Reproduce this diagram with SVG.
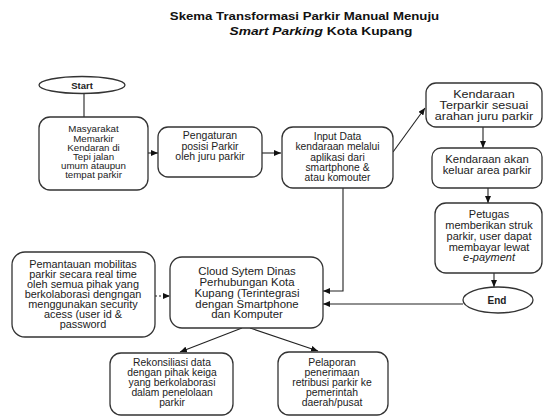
<svg xmlns="http://www.w3.org/2000/svg" width="544" height="418" viewBox="0 0 544 418">
<defs>
<marker id="arr" markerWidth="7" markerHeight="6" refX="7" refY="3" orient="auto" markerUnits="userSpaceOnUse">
<path d="M0,0 L7,3 L0,6 z" fill="#111"/>
</marker>
<style>
.box{fill:#fff;stroke:#333;stroke-width:1.3}
.t{font-family:"Liberation Sans",Arial,sans-serif;font-size:10px;fill:#222;text-anchor:middle}
.b{font-weight:bold}
.ttl{font-family:"Liberation Sans",Arial,sans-serif;font-size:11.5px;font-weight:bold;fill:#111;text-anchor:middle}
.ln{fill:none;stroke:#222;stroke-width:1.1}
</style>
</defs>
<rect width="544" height="418" fill="#fff"/>
<g id="title">
<text class="ttl" transform="translate(304.5 0) scale(1.15 1)" x="0" y="20">Skema Transformasi Parkir Manual Menuju</text>
<text class="ttl" transform="translate(321 0) scale(1.2 1)" x="0" y="35"><tspan font-style="italic">Smart Parking</tspan> Kota Kupang</text>
</g>
<g id="connectors">
<line class="ln" x1="84" y1="93" x2="84" y2="117"/>
<line class="ln" x1="148" y1="153" x2="158" y2="153" marker-end="url(#arr)"/>
<line class="ln" x1="262" y1="153" x2="281" y2="153" marker-end="url(#arr)"/>
<line class="ln" x1="393" y1="152" x2="425" y2="108" marker-end="url(#arr)"/>
<line class="ln" x1="483" y1="127" x2="483" y2="148" marker-end="url(#arr)"/>
<line class="ln" x1="488" y1="188" x2="488" y2="203" marker-end="url(#arr)"/>
<line class="ln" x1="494" y1="273" x2="494" y2="287" marker-end="url(#arr)"/>
<polyline class="ln" points="343,188 343,291 323,291" marker-end="url(#arr)"/>
<line class="ln" x1="463" y1="304" x2="323" y2="304" marker-end="url(#arr)"/>
<line class="ln" x1="155" y1="296" x2="170" y2="296" stroke-dasharray="2,2" marker-end="url(#arr)"/>
<line class="ln" x1="242" y1="328" x2="180" y2="352" marker-end="url(#arr)"/>
<line class="ln" x1="250" y1="328" x2="318" y2="351" marker-end="url(#arr)"/>
</g>
<g id="start">
<ellipse class="box" cx="82" cy="85" rx="43" ry="8.5"/>
<text class="t b" x="82" y="88.5" style="font-size:9.5px">Start</text>
</g>
<g id="masyarakat">
<rect class="box" x="39" y="117" width="109" height="73" rx="11"/>
<text class="t" transform="translate(93.5 0) scale(1.12 1)" x="0" y="132.5" style="font-size:8.7px"><tspan x="0">Masyarakat</tspan><tspan x="0" dy="9.1">Memarkir</tspan><tspan x="0" dy="9.1">Kendaran di</tspan><tspan x="0" dy="9.1">Tepi jalan</tspan><tspan x="0" dy="9.1">umum ataupun</tspan><tspan x="0" dy="9.1">tempat parkir</tspan></text>
</g>
<g id="pengaturan">
<rect class="box" x="158" y="127" width="104" height="50" rx="10"/>
<text class="t" transform="translate(210 0) scale(1.05 1)" x="0" y="139.5"><tspan x="0">Pengaturan</tspan><tspan x="0" dy="10.5">posisi Parkir</tspan><tspan x="0" dy="10.5">oleh juru parkir</tspan></text>
</g>
<g id="input">
<rect class="box" x="282" y="127" width="111" height="61" rx="11"/>
<text class="t" transform="translate(337.5 0) scale(1.03 1)" x="0" y="140"><tspan x="0">Input Data</tspan><tspan x="0" dy="10.3">kendaraan melalui</tspan><tspan x="0" dy="10.3">aplikasi dari</tspan><tspan x="0" dy="10.3">smartphone &amp;</tspan><tspan x="0" dy="10.3">atau komouter</tspan></text>
</g>
<g id="terparkir">
<rect class="box" x="426" y="83" width="116" height="44" rx="10"/>
<text class="t" transform="translate(484 0) scale(1.26 1)" x="0" y="98.5"><tspan x="0">Kendaraan</tspan><tspan x="0" dy="11">Terparkir sesuai</tspan><tspan x="0" dy="11">arahan juru parkir</tspan></text>
</g>
<g id="keluar">
<rect class="box" x="432" y="148" width="110" height="40" rx="9"/>
<text class="t" transform="translate(487 0) scale(1.14 1)" x="0" y="163.5"><tspan x="0">Kendaraan akan</tspan><tspan x="0" dy="11">keluar area parkir</tspan></text>
</g>
<g id="petugas">
<rect class="box" x="435" y="203" width="107" height="70" rx="11"/>
<text class="t" transform="translate(489 0) scale(1.1 1)" x="0" y="218.5"><tspan x="0">Petugas</tspan><tspan x="0" dy="10.7">memberikan struk</tspan><tspan x="0" dy="10.7">parkir, user dapat</tspan><tspan x="0" dy="10.7">membayar lewat</tspan><tspan x="0" dy="10.7" font-style="italic">e-payment</tspan></text>
</g>
<g id="end">
<ellipse class="box" cx="498" cy="300" rx="35" ry="13"/>
<text class="t b" x="497" y="303.5" style="font-size:10px">End</text>
</g>
<g id="cloud">
<rect class="box" x="170" y="257" width="153" height="71" rx="12"/>
<text class="t" transform="translate(247 0) scale(1.14 1)" x="0" y="275.5"><tspan x="0">Cloud Sytem Dinas</tspan><tspan x="0" dy="10.7">Perhubungan Kota</tspan><tspan x="0" dy="10.7">Kupang (Terintegrasi</tspan><tspan x="0" dy="10.7">dengan Smartphone</tspan><tspan x="0" dy="10.7">dan Komputer</tspan></text>
</g>
<g id="pemantauan">
<rect class="box" x="12" y="252" width="143" height="85" rx="13"/>
<text class="t" transform="translate(83 0) scale(1.09 1)" x="0" y="268.5"><tspan x="0">Pemantauan mobilitas</tspan><tspan x="0" dy="9.85">parkir secara real time</tspan><tspan x="0" dy="9.85">oleh semua pihak yang</tspan><tspan x="0" dy="9.85">berkolaborasi dengngan</tspan><tspan x="0" dy="9.85">menggunakan security</tspan><tspan x="0" dy="9.85">acess (user id &amp;</tspan><tspan x="0" dy="9.85">password</tspan></text>
</g>
<g id="rekonsiliasi">
<rect class="box" x="110" y="353" width="123" height="62" rx="11"/>
<text class="t" transform="translate(172 0) scale(1.03 1)" x="0" y="366.5"><tspan x="0">Rekonsiliasi data</tspan><tspan x="0" dy="9.8">dengan pihak keiga</tspan><tspan x="0" dy="9.8">yang berkolaborasi</tspan><tspan x="0" dy="9.8">dalam penelolaan</tspan><tspan x="0" dy="9.8">parkir</tspan></text>
</g>
<g id="pelaporan">
<rect class="box" x="278" y="352" width="110" height="63" rx="11"/>
<text class="t" transform="translate(332 0) scale(1.04 1)" x="0" y="366.5"><tspan x="0">Pelaporan</tspan><tspan x="0" dy="10">penerimaan</tspan><tspan x="0" dy="10">retribusi parkir ke</tspan><tspan x="0" dy="10">pemerintah</tspan><tspan x="0" dy="10">daerah/pusat</tspan></text>
</g>
</svg>
